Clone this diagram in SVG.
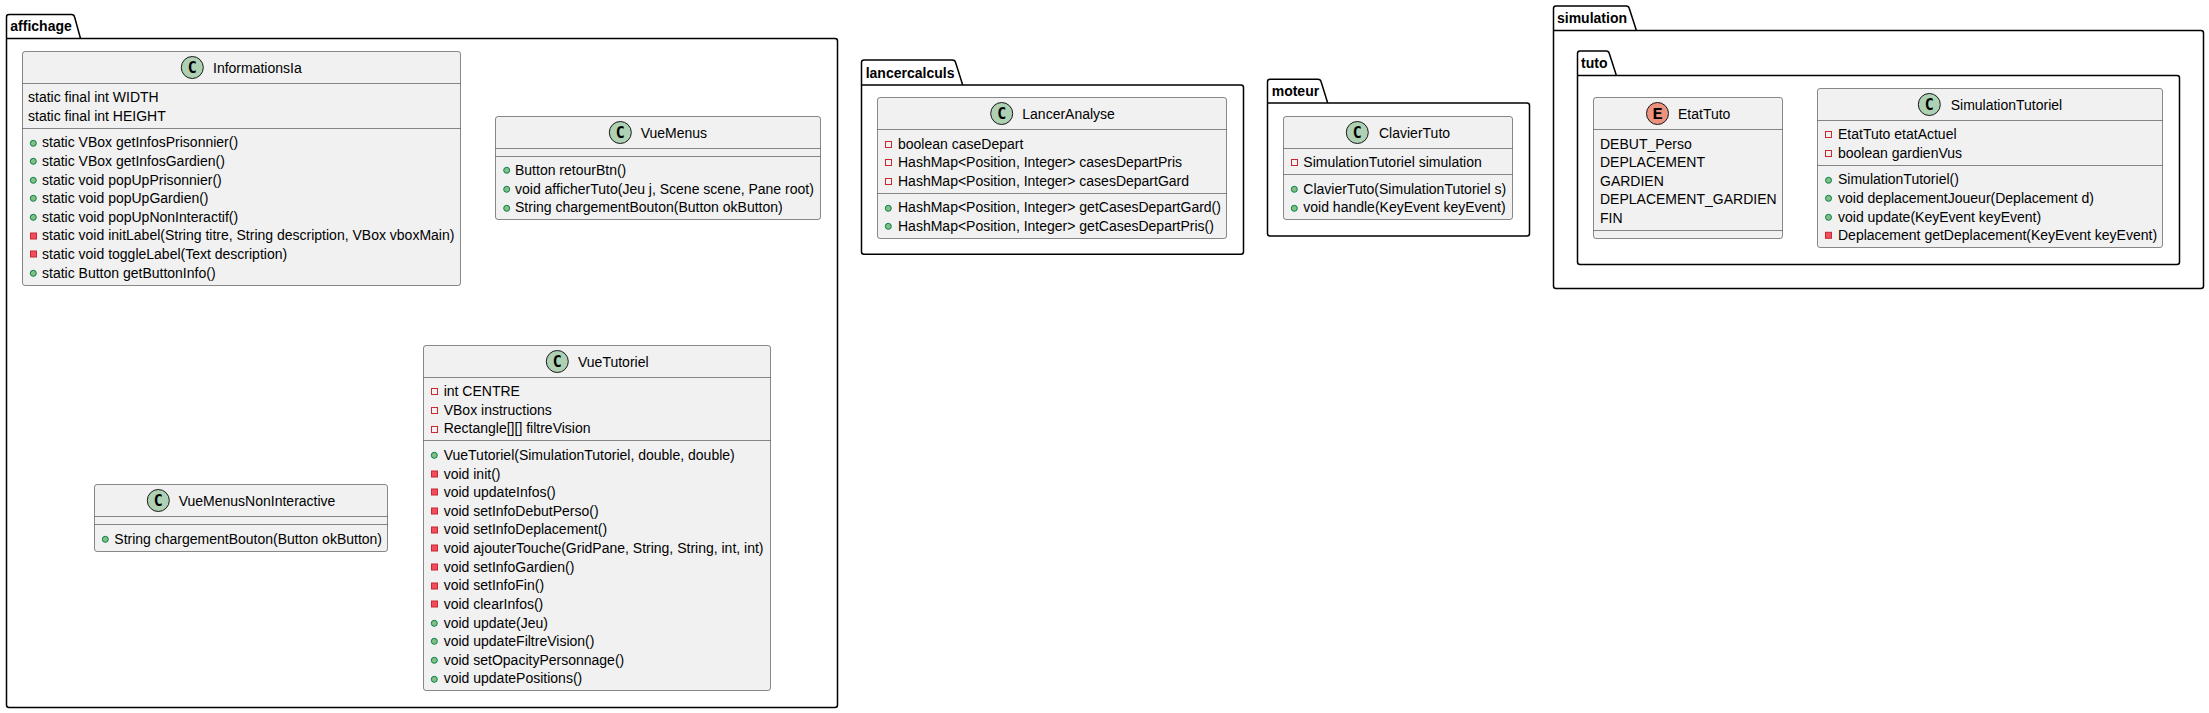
<svg xmlns="http://www.w3.org/2000/svg" width="2209" height="713" viewBox="0 0 2209 713">
<style>
text{font-family:"Liberation Sans",Arial,sans-serif;font-size:14px;fill:#000}
.pk{fill:none;stroke:#000;stroke-width:1.5}
.pl{font-weight:bold}
.box{fill:#F1F1F1;stroke:#181818;stroke-width:.5}
.sep{stroke:#181818;stroke-width:.5;fill:none}
.ci{fill:#ADD1B2;stroke:#181818;stroke-width:1}
.en{fill:#EB937F;stroke:#181818;stroke-width:1}
text.g{font-family:"DejaVu Sans Mono",monospace;font-weight:bold;font-size:15px;text-anchor:middle}
text.e{font-family:"Liberation Mono",monospace;font-weight:bold;font-size:17px;text-anchor:middle}
.pub{fill:#84BE84;stroke:#038048;stroke-width:1}
.pri{fill:#F24D5C;stroke:#C82930;stroke-width:1}
.pra{fill:none;stroke:#C82930;stroke-width:1}
</style>
<g id="connectors"/>
<g id="pkg-affichage">
<path class="pk" d="M6.5 38.5V17Q6.5 14.5 9 14.5H71.5Q74 14.5 74.6 17L80.5 38.5H835Q837.5 38.5 837.5 41V705Q837.5 707.5 835 707.5H9Q6.5 707.5 6.5 705ZM6.5 38.5H80.5"/>
<text class="pl" x="10.3" y="31">affichage</text>
<g id="InformationsIa">
<rect class="box" x="22.5" y="51.5" width="438" height="234" rx="2.5"/>
<path class="sep" d="M22.5 83.5H460.5M22.5 128.5H460.5"/>
<circle class="ci" cx="192.3" cy="67.5" r="11"/><text class="g" x="192.3" y="73">C</text>
<text x="213" y="73">InformationsIa</text>
<text x="28" y="102">static final int WIDTH</text>
<text x="28" y="121">static final int HEIGHT</text>
<circle class="pub" cx="33.3" cy="143.3" r="3"/><text x="42" y="147">static VBox getInfosPrisonnier()</text>
<circle class="pub" cx="33.3" cy="161.3" r="3"/><text x="42" y="166">static VBox getInfosGardien()</text>
<circle class="pub" cx="33.3" cy="180.3" r="3"/><text x="42" y="185">static void popUpPrisonnier()</text>
<circle class="pub" cx="33.3" cy="198.3" r="3"/><text x="42" y="203">static void popUpGardien()</text>
<circle class="pub" cx="33.3" cy="217.3" r="3"/><text x="42" y="222">static void popUpNonInteractif()</text>
<rect class="pri" x="30.5" y="233" width="6" height="6"/><text x="42" y="240">static void initLabel(String titre, String description, VBox vboxMain)</text>
<rect class="pri" x="30.5" y="251" width="6" height="6"/><text x="42" y="259">static void toggleLabel(Text description)</text>
<circle class="pub" cx="33.3" cy="273.3" r="3"/><text x="42" y="278">static Button getButtonInfo()</text>
</g>
<g id="VueMenus">
<rect class="box" x="495.5" y="116.5" width="325" height="103" rx="2.5"/>
<path class="sep" d="M495.5 148.5H820.5M495.5 156.5H820.5"/>
<circle class="ci" cx="620.3" cy="132.5" r="11"/><text class="g" x="620.3" y="138">C</text>
<text x="640.7" y="138">VueMenus</text>
<circle class="pub" cx="506.7" cy="170.3" r="3"/><text x="515" y="175">Button retourBtn()</text>
<circle class="pub" cx="506.7" cy="189.3" r="3"/><text x="515" y="194">void afficherTuto(Jeu j, Scene scene, Pane root)</text>
<circle class="pub" cx="506.7" cy="208.3" r="3"/><text x="515" y="212">String chargementBouton(Button okButton)</text>
</g>
<g id="VueMenusNonInteractive">
<rect class="box" x="94.5" y="484.5" width="293" height="67" rx="2.5"/>
<path class="sep" d="M94.5 516.5H387.5M94.5 524.5H387.5"/>
<circle class="ci" cx="158.3" cy="500.5" r="11"/><text class="g" x="158.3" y="506">C</text>
<text x="178.7" y="506">VueMenusNonInteractive</text>
<circle class="pub" cx="105.3" cy="539.3" r="3"/><text x="114.3" y="544">String chargementBouton(Button okButton)</text>
</g>
<g id="VueTutoriel">
<rect class="box" x="423.5" y="345.5" width="347" height="345" rx="2.5"/>
<path class="sep" d="M423.5 377.5H770.5M423.5 440.5H770.5"/>
<circle class="ci" cx="557.3" cy="361.5" r="11"/><text class="g" x="557.3" y="367">C</text>
<text x="578" y="367">VueTutoriel</text>
<rect class="pra" x="431.5" y="388.5" width="6" height="6"/><text x="443.7" y="396">int CENTRE</text>
<rect class="pra" x="431.5" y="407.5" width="6" height="6"/><text x="443.7" y="415">VBox instructions</text>
<rect class="pra" x="431.5" y="426.5" width="6" height="6"/><text x="443.7" y="433">Rectangle[][] filtreVision</text>
<circle class="pub" cx="434.3" cy="455.3" r="3"/><text x="443.7" y="460">VueTutoriel(SimulationTutoriel, double, double)</text>
<rect class="pri" x="431.5" y="471" width="6" height="6"/><text x="443.7" y="479">void init()</text>
<rect class="pri" x="431.5" y="489" width="6" height="6"/><text x="443.7" y="497">void updateInfos()</text>
<rect class="pri" x="431.5" y="508" width="6" height="6"/><text x="443.7" y="516">void setInfoDebutPerso()</text>
<rect class="pri" x="431.5" y="527" width="6" height="6"/><text x="443.7" y="534">void setInfoDeplacement()</text>
<rect class="pri" x="431.5" y="545" width="6" height="6"/><text x="443.7" y="553">void ajouterTouche(GridPane, String, String, int, int)</text>
<rect class="pri" x="431.5" y="564" width="6" height="6"/><text x="443.7" y="572">void setInfoGardien()</text>
<rect class="pri" x="431.5" y="583" width="6" height="6"/><text x="443.7" y="590">void setInfoFin()</text>
<rect class="pri" x="431.5" y="601" width="6" height="6"/><text x="443.7" y="609">void clearInfos()</text>
<circle class="pub" cx="434.3" cy="623.3" r="3"/><text x="443.7" y="628">void update(Jeu)</text>
<circle class="pub" cx="434.3" cy="641.3" r="3"/><text x="443.7" y="646">void updateFiltreVision()</text>
<circle class="pub" cx="434.3" cy="660.3" r="3"/><text x="443.7" y="665">void setOpacityPersonnage()</text>
<circle class="pub" cx="434.3" cy="679.3" r="3"/><text x="443.7" y="683">void updatePositions()</text>
</g>
</g>
<g id="pkg-lancercalculs">
<path class="pk" d="M861.5 85V62.5Q861.5 60 864 60H952.5Q955 60 955.6 62.5L962.7 85H1241Q1243.5 85 1243.5 87.5V251.8Q1243.5 254.3 1241 254.3H864Q861.5 254.3 861.5 251.8ZM861.5 85H962.7"/>
<text class="pl" x="865.7" y="78">lancercalculs</text>
<g id="LancerAnalyse">
<rect class="box" x="877.5" y="97.5" width="349" height="141" rx="2.5"/>
<path class="sep" d="M877.5 129.5H1226.5M877.5 193.5H1226.5"/>
<circle class="ci" cx="1001.7" cy="113.5" r="11"/><text class="g" x="1001.7" y="119">C</text>
<text x="1022.3" y="119">LancerAnalyse</text>
<rect class="pra" x="885.5" y="141.5" width="6" height="6"/><text x="898" y="149">boolean caseDepart</text>
<rect class="pra" x="885.5" y="159.5" width="6" height="6"/><text x="898" y="167">HashMap&lt;Position, Integer&gt; casesDepartPris</text>
<rect class="pra" x="885.5" y="178.5" width="6" height="6"/><text x="898" y="186">HashMap&lt;Position, Integer&gt; casesDepartGard</text>
<circle class="pub" cx="888.3" cy="208.3" r="3"/><text x="898" y="212">HashMap&lt;Position, Integer&gt; getCasesDepartGard()</text>
<circle class="pub" cx="888.3" cy="226.3" r="3"/><text x="898" y="231">HashMap&lt;Position, Integer&gt; getCasesDepartPris()</text>
</g>
</g>
<g id="pkg-moteur">
<path class="pk" d="M1267.5 103V81.8Q1267.5 79.3 1270 79.3H1318Q1320.5 79.3 1321.1 81.8L1327.7 103H1527Q1529.5 103 1529.5 105.5V233.5Q1529.5 236 1527 236H1270Q1267.5 236 1267.5 233.5ZM1267.5 103H1327.7"/>
<text class="pl" x="1271.7" y="96">moteur</text>
<g id="ClavierTuto">
<rect class="box" x="1283.5" y="116.5" width="229" height="103" rx="2.5"/>
<path class="sep" d="M1283.5 148.5H1512.5M1283.5 174.5H1512.5"/>
<circle class="ci" cx="1357.3" cy="132.5" r="11"/><text class="g" x="1357.3" y="138">C</text>
<text x="1379" y="138">ClavierTuto</text>
<rect class="pra" x="1291.5" y="159.5" width="6" height="6"/><text x="1303.3" y="167">SimulationTutoriel simulation</text>
<circle class="pub" cx="1294.3" cy="189.3" r="3"/><text x="1303.3" y="194">ClavierTuto(SimulationTutoriel s)</text>
<circle class="pub" cx="1294.3" cy="208.3" r="3"/><text x="1303.3" y="212">void handle(KeyEvent keyEvent)</text>
</g>
</g>
<g id="pkg-simulation">
<path class="pk" d="M1553.5 30.5V8.5Q1553.5 6 1556 6H1626.2Q1628.7 6 1629.3 8.5L1636.4 30.5H2201Q2203.5 30.5 2203.5 33V286Q2203.5 288.5 2201 288.5H1556Q1553.5 288.5 1553.5 286ZM1553.5 30.5H1636.4"/>
<text class="pl" x="1557" y="23">simulation</text>
<g id="pkg-tuto">
<path class="pk" d="M1577.5 75.5V53.5Q1577.5 51 1580 51H1606.2Q1608.7 51 1609.3 53.5L1616.4 75.5H2177Q2179.5 75.5 2179.5 78V262Q2179.5 264.5 2177 264.5H1580Q1577.5 264.5 1577.5 262ZM1577.5 75.5H1616.4"/>
<text class="pl" x="1581" y="68">tuto</text>
<g id="EtatTuto">
<rect class="box" x="1593.5" y="97.5" width="189" height="141" rx="2.5"/>
<path class="sep" d="M1593.5 129.5H1782.5M1593.5 230.5H1782.5"/>
<circle class="en" cx="1657.5" cy="113.5" r="11"/><text class="e" x="1657.5" y="119">E</text>
<text x="1678" y="119">EtatTuto</text>
<text x="1600" y="149">DEBUT_Perso</text>
<text x="1600" y="167">DEPLACEMENT</text>
<text x="1600" y="186">GARDIEN</text>
<text x="1600" y="204">DEPLACEMENT_GARDIEN</text>
<text x="1600" y="223">FIN</text>
</g>
<g id="SimulationTutoriel">
<rect class="box" x="1817.5" y="88.5" width="345" height="159" rx="2.5"/>
<path class="sep" d="M1817.5 120.5H2162.5M1817.5 165.5H2162.5"/>
<circle class="ci" cx="1929.3" cy="104.5" r="11"/><text class="g" x="1929.3" y="110">C</text>
<text x="1950.7" y="110">SimulationTutoriel</text>
<rect class="pra" x="1825.5" y="131.5" width="6" height="6"/><text x="1838" y="139">EtatTuto etatActuel</text>
<rect class="pra" x="1825.5" y="150.5" width="6" height="6"/><text x="1838" y="158">boolean gardienVus</text>
<circle class="pub" cx="1828.5" cy="180.3" r="3"/><text x="1838" y="184">SimulationTutoriel()</text>
<circle class="pub" cx="1828.5" cy="198.3" r="3"/><text x="1838" y="203">void deplacementJoueur(Deplacement d)</text>
<circle class="pub" cx="1828.5" cy="217.3" r="3"/><text x="1838" y="222">void update(KeyEvent keyEvent)</text>
<rect class="pri" x="1825.5" y="232.3" width="6" height="6"/><text x="1838" y="240">Deplacement getDeplacement(KeyEvent keyEvent)</text>
</g>
</g>
</g>
</svg>
